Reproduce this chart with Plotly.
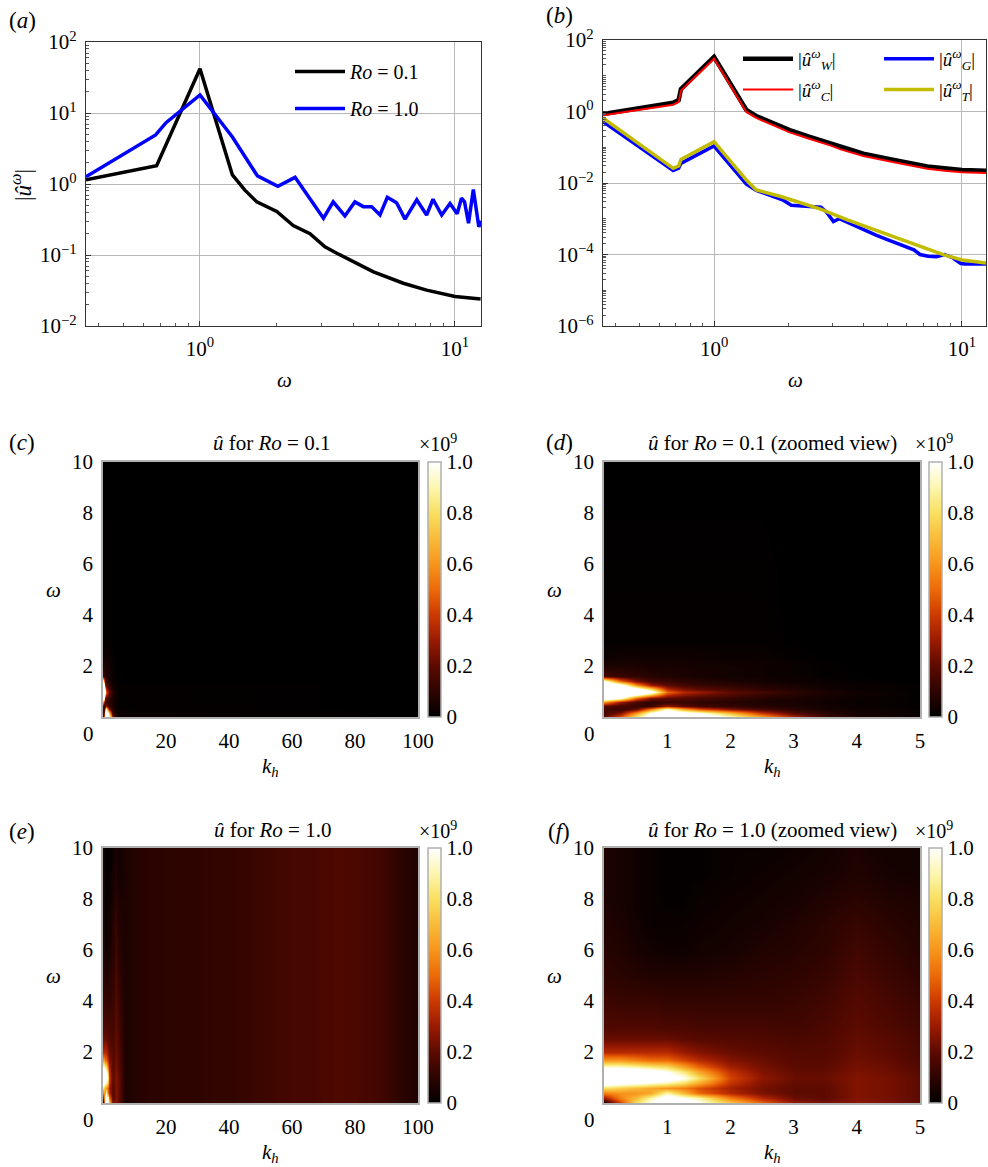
import plotly.graph_objects as go

FONT = "Liberation Serif, Times New Roman, serif"
W, H = 988, 1167


def px_x(p):
    return p / W


def px_y(p):
    return 1 - p / H


# ---------------- Panel (a) data ----------------
omega_a_ro01 = [0.357, 0.676, 1.0, 1.34, 1.5, 1.67, 2.0, 2.32, 2.7, 3.09, 3.44, 4.11, 4.79, 6.27, 7.74, 10.0, 12.6]
u_a_ro01 = [1.15, 1.81, 42, 1.34, 0.82, 0.56, 0.41, 0.26, 0.20, 0.13, 0.106, 0.076, 0.058, 0.040, 0.032, 0.026, 0.024]

omega_a_ro10 = [0.357, 0.67, 0.736, 1.0, 1.34, 1.68, 2.02, 2.36, 3.05, 3.33, 3.7, 4.05, 4.37, 4.71, 5.08, 5.43,
                5.9, 6.37, 7.08, 7.74, 8.2, 8.87, 9.56, 10.2, 10.6, 10.9, 11.3, 11.8, 12.4, 12.7]
u_a_ro10 = [1.26, 4.9, 7.3, 18, 4.6, 1.3, 0.93, 1.24, 0.33, 0.56, 0.355, 0.56, 0.48, 0.48, 0.366, 0.65,
            0.546, 0.32, 0.6, 0.366, 0.61, 0.366, 0.53, 0.38, 0.63, 0.56, 0.28, 0.84, 0.25, 0.3]

# ---------------- Panel (b) data ----------------
omega_b_WC = [0.357, 0.684, 0.72, 0.735, 1.0, 1.35, 1.48, 1.68, 2.02, 2.4, 2.94, 3.24, 4.0, 5.32, 6.17, 7.25, 8.5, 10.0, 12.5]
u_b_W = [0.85, 1.76, 2.1, 4.2, 34, 1.1, 0.75, 0.51, 0.30, 0.2, 0.129, 0.10, 0.066, 0.044, 0.0355, 0.029, 0.026, 0.023, 0.022]
u_b_C = [0.78, 1.55, 1.85, 3.8, 30, 0.97, 0.66, 0.45, 0.26, 0.175, 0.113, 0.087, 0.057, 0.038, 0.031, 0.025, 0.022, 0.020, 0.019]

omega_b_T = [0.357, 0.684, 0.72, 0.735, 1.0, 1.35, 1.48, 1.86, 2.69, 3.45, 6.02, 8.46, 10.0, 12.5]
u_b_T = [0.65, 0.0257, 0.03, 0.0457, 0.143, 0.0121, 0.0064, 0.0042, 0.00185, 0.00093, 0.00023, 0.0000977, 0.00007, 0.000058]

omega_b_G = [0.357, 0.684, 0.72, 0.735, 1.0, 1.35, 1.48, 1.6, 1.9, 2.05, 2.4, 2.7, 2.85, 3.03, 3.2, 3.5, 4.0, 4.5, 5.0,
             5.98, 6.4, 6.77, 7.3, 7.9, 8.5, 9.2, 9.9, 10.3, 12.5]
u_b_G = [0.52, 0.0224, 0.026, 0.0355, 0.108, 0.0093, 0.0062, 0.0050, 0.0033, 0.0024, 0.0022, 0.0021, 0.0015, 0.00083,
         0.0010, 0.00075, 0.00049, 0.00035, 0.00026, 0.000166, 0.000135, 0.0001, 0.00009, 0.000087, 0.0001, 0.00008,
         0.000056, 0.000054, 0.000054]

# ---------------- Heatmap data (units of 1e9) ----------------
# Ro = 0.1 zoomed view
kh_d = [0, 0.25, 0.5, 0.75, 1.0, 1.25, 1.5, 2.0, 2.5, 3.0, 3.5, 4.0, 5.0]
omega_d = [0, 0.15, 0.3, 0.45, 0.6, 0.75, 0.9, 1.0, 1.1, 1.25, 1.4, 1.6, 2.0, 2.4, 3.0, 10.0]
z_d = [
    [0.20, 0.45, 0.85, 1.10, 1.30, 1.30, 1.20, 0.95, 0.65, 0.35, 0.14, 0.06, 0.02],
    [0.15, 0.25, 0.60, 1.00, 1.20, 1.10, 1.00, 0.70, 0.38, 0.18, 0.09, 0.04, 0.02],
    [0.15, 0.12, 0.20, 0.55, 0.95, 0.65, 0.45, 0.26, 0.15, 0.09, 0.05, 0.03, 0.01],
    [0.18, 0.15, 0.12, 0.12, 0.30, 0.20, 0.15, 0.11, 0.08, 0.06, 0.04, 0.02, 0.01],
    [0.60, 0.30, 0.15, 0.10, 0.12, 0.12, 0.10, 0.08, 0.06, 0.05, 0.03, 0.02, 0.01],
    [1.20, 1.00, 0.50, 0.25, 0.20, 0.18, 0.15, 0.12, 0.08, 0.06, 0.04, 0.02, 0.01],
    [1.40, 1.30, 1.10, 0.80, 0.40, 0.30, 0.25, 0.18, 0.12, 0.08, 0.05, 0.03, 0.01],
    [1.50, 1.40, 1.30, 1.10, 0.50, 0.35, 0.30, 0.20, 0.15, 0.10, 0.06, 0.03, 0.01],
    [1.40, 1.30, 1.10, 0.80, 0.35, 0.25, 0.20, 0.15, 0.10, 0.07, 0.04, 0.02, 0.01],
    [1.30, 1.10, 0.60, 0.30, 0.20, 0.15, 0.12, 0.10, 0.07, 0.05, 0.03, 0.02, 0.01],
    [1.00, 0.50, 0.25, 0.15, 0.12, 0.10, 0.08, 0.06, 0.04, 0.03, 0.02, 0.01, 0.00],
    [0.15, 0.12, 0.10, 0.08, 0.07, 0.06, 0.05, 0.04, 0.03, 0.02, 0.01, 0.00, 0.00],
    [0.06, 0.06, 0.06, 0.05, 0.05, 0.05, 0.04, 0.04, 0.03, 0.02, 0.01, 0.00, 0.00],
    [0.02, 0.03, 0.03, 0.03, 0.03, 0.03, 0.03, 0.02, 0.02, 0.01, 0.00, 0.00, 0.00],
    [0.01, 0.01, 0.01, 0.01, 0.01, 0.01, 0.01, 0.01, 0.01, 0.00, 0.00, 0.00, 0.00],
    [0.00, 0.00, 0.00, 0.00, 0.00, 0.00, 0.00, 0.00, 0.00, 0.00, 0.00, 0.00, 0.00],
]

# Ro = 0.1 full view: same low-k_h data, nothing beyond
kh_c_far = [100]
level_c_far = [0.0]

# Ro = 1.0 zoomed view
kh_f = [0, 0.25, 0.5, 0.75, 1.0, 1.25, 1.5, 2.0, 2.5, 3.0, 3.5, 4.0, 4.5, 5.0]
omega_f = [0, 0.2, 0.4, 0.6, 0.8, 1.0, 1.2, 1.4, 1.7, 2.0, 2.5, 3.0, 4.0, 5.0, 6.0, 7.0, 8.0, 9.0, 10.0]
z_f = [
    [0.05, 0.40, 0.80, 1.00, 1.10, 1.10, 1.00, 0.75, 0.50, 0.30, 0.25, 0.28, 0.25, 0.20],
    [0.30, 0.55, 0.70, 0.90, 1.10, 1.00, 0.90, 0.55, 0.35, 0.22, 0.20, 0.26, 0.24, 0.20],
    [0.55, 0.60, 0.60, 0.65, 0.90, 0.70, 0.50, 0.35, 0.25, 0.20, 0.20, 0.26, 0.24, 0.20],
    [0.80, 0.75, 0.70, 0.65, 0.60, 0.55, 0.45, 0.32, 0.24, 0.20, 0.20, 0.26, 0.24, 0.20],
    [1.10, 1.05, 1.00, 0.95, 0.90, 0.80, 0.65, 0.38, 0.26, 0.21, 0.21, 0.26, 0.24, 0.20],
    [1.30, 1.30, 1.25, 1.20, 1.10, 1.00, 0.80, 0.42, 0.28, 0.22, 0.22, 0.26, 0.24, 0.20],
    [1.20, 1.20, 1.15, 1.10, 1.00, 0.85, 0.65, 0.38, 0.26, 0.21, 0.21, 0.25, 0.23, 0.19],
    [0.95, 0.95, 0.90, 0.85, 0.80, 0.65, 0.50, 0.32, 0.24, 0.20, 0.20, 0.24, 0.22, 0.18],
    [0.60, 0.60, 0.55, 0.50, 0.50, 0.42, 0.35, 0.26, 0.22, 0.19, 0.19, 0.23, 0.21, 0.17],
    [0.35, 0.35, 0.35, 0.35, 0.35, 0.30, 0.26, 0.22, 0.20, 0.18, 0.18, 0.22, 0.20, 0.16],
    [0.22, 0.22, 0.22, 0.22, 0.22, 0.20, 0.19, 0.18, 0.17, 0.16, 0.17, 0.21, 0.19, 0.15],
    [0.17, 0.17, 0.17, 0.17, 0.16, 0.16, 0.15, 0.15, 0.15, 0.14, 0.16, 0.20, 0.17, 0.14],
    [0.13, 0.12, 0.12, 0.12, 0.11, 0.11, 0.11, 0.11, 0.11, 0.12, 0.14, 0.18, 0.15, 0.12],
    [0.10, 0.09, 0.08, 0.07, 0.07, 0.07, 0.07, 0.08, 0.09, 0.10, 0.12, 0.16, 0.13, 0.10],
    [0.08, 0.07, 0.05, 0.04, 0.03, 0.03, 0.04, 0.05, 0.07, 0.08, 0.10, 0.14, 0.11, 0.08],
    [0.07, 0.06, 0.04, 0.02, 0.02, 0.02, 0.03, 0.04, 0.05, 0.07, 0.09, 0.12, 0.09, 0.07],
    [0.06, 0.05, 0.03, 0.02, 0.01, 0.01, 0.02, 0.03, 0.04, 0.05, 0.07, 0.09, 0.07, 0.06],
    [0.06, 0.05, 0.03, 0.02, 0.01, 0.01, 0.01, 0.02, 0.03, 0.04, 0.05, 0.07, 0.05, 0.04],
    [0.06, 0.05, 0.03, 0.02, 0.01, 0.01, 0.01, 0.02, 0.02, 0.03, 0.04, 0.06, 0.04, 0.04],
]

# Ro = 1.0 full view: low-k_h data plus broad-band level at larger k_h
kh_e_far = [7, 10, 15, 20, 25, 30, 35, 40, 45, 50, 55, 60, 65, 70, 75, 80, 85, 90, 95, 100]
level_e_far = [0.06, 0.08, 0.09, 0.095, 0.10, 0.10, 0.11, 0.11, 0.12, 0.13, 0.14, 0.15, 0.15, 0.16, 0.17,
               0.16, 0.15, 0.13, 0.09, 0.07]

# build full-view grids
kh_c = kh_d + kh_c_far
z_c = [row + level_c_far for row in z_d]
kh_e = kh_f + kh_e_far
z_e = [row + level_e_far for row in z_f]

cb_ticks = [0, 0.2, 0.4, 0.6, 0.8, 1.0]
cb_ticktext = ["0", "0.2", "0.4", "0.6", "0.8", "1.0"]

hot_scale = [[0.0, "#000000"], [0.1, "#2e0400"], [0.2, "#5c0a00"], [0.3, "#9a1a00"], [0.4, "#cc3a00"],
             [0.5, "#ec6a08"], [0.6, "#f7951c"], [0.7, "#f9bb3a"], [0.8, "#f9e060"], [0.9, "#fcf6b0"],
             [1.0, "#ffffff"]]

fig = go.Figure()

# (a)
fig.add_trace(go.Scatter(x=omega_a_ro01, y=u_a_ro01, mode="lines", line=dict(color="black", width=3.5),
                         name="<i>Ro</i> = 0.1", xaxis="x", yaxis="y", legend="legend", legendgroup="a1"))
fig.add_trace(go.Scatter(x=omega_a_ro10, y=u_a_ro10, mode="lines", line=dict(color="#0000ff", width=3.5),
                         name="<i>Ro</i> = 1.0", xaxis="x", yaxis="y", legend="legend", legendgroup="a2"))

# (b)
fig.add_trace(go.Scatter(x=omega_b_WC, y=u_b_W, mode="lines", line=dict(color="black", width=4.5),
                         name="|<i>û</i><sup><i>ω</i></sup><sub><i>W</i></sub>|", xaxis="x2", yaxis="y2",
                         legend="legend2", legendgroup="b1"))
fig.add_trace(go.Scatter(x=omega_b_WC, y=u_b_C, mode="lines", line=dict(color="#ff0000", width=2),
                         name="|<i>û</i><sup><i>ω</i></sup><sub><i>C</i></sub>|", xaxis="x2", yaxis="y2",
                         legend="legend2", legendgroup="b2"))
fig.add_trace(go.Scatter(x=omega_b_G, y=u_b_G, mode="lines", line=dict(color="#0000ff", width=3.5),
                         name="|<i>û</i><sup><i>ω</i></sup><sub><i>G</i></sub>|", xaxis="x2", yaxis="y2",
                         legend="legend3", legendgroup="b3"))
fig.add_trace(go.Scatter(x=omega_b_T, y=u_b_T, mode="lines", line=dict(color="#c2bc00", width=3.5),
                         name="|<i>û</i><sup><i>ω</i></sup><sub><i>T</i></sub>|", xaxis="x2", yaxis="y2",
                         legend="legend3", legendgroup="b4"))


def cbar(x_px, y_top, y_bot):
    return dict(x=px_x(x_px), xanchor="left", xref="paper", y=px_y((y_top + y_bot) / 2), yanchor="middle",
                len=(y_bot - y_top) / H, lenmode="fraction", thickness=13, thicknessmode="pixels",
                outlinecolor="#b0b0b0", outlinewidth=1.5, tickvals=cb_ticks, ticktext=cb_ticktext,
                ticks="", tickfont=dict(family=FONT, size=21, color="black"), ypad=0, xpad=0)


heat_common = dict(colorscale=hot_scale, zmin=0, zmax=1, zsmooth="best", hoverinfo="skip")
fig.add_trace(go.Heatmap(x=kh_c, y=omega_d, z=z_c, xaxis="x3", yaxis="y3", colorbar=cbar(428, 462, 717), **heat_common))
fig.add_trace(go.Heatmap(x=kh_d, y=omega_d, z=z_d, xaxis="x4", yaxis="y4", colorbar=cbar(929, 462, 717), **heat_common))
fig.add_trace(go.Heatmap(x=kh_e, y=omega_f, z=z_e, xaxis="x5", yaxis="y5", colorbar=cbar(428, 848, 1103), **heat_common))
fig.add_trace(go.Heatmap(x=kh_f, y=omega_f, z=z_f, xaxis="x6", yaxis="y6", colorbar=cbar(929, 848, 1103), **heat_common))

tfont = dict(family=FONT, size=21, color="black")


def log_axis(dom, rng, tv, tt, anchor):
    return dict(type="log", domain=dom, range=rng, anchor=anchor, tickmode="array", tickvals=tv, ticktext=tt,
                tickfont=tfont, showline=True, linecolor="#333333", linewidth=1.2, mirror=True,
                ticks="inside", ticklen=5, tickcolor="#333333", showgrid=True, gridcolor="#b8b8b8", gridwidth=1,
                zeroline=False, ticklabelstandoff=4,
                minor=dict(ticks="inside", ticklen=2.5, tickcolor="#555555", dtick="D1", showgrid=False))


layout = dict(
    width=W, height=H, margin=dict(l=0, r=0, t=0, b=0, autoexpand=False), paper_bgcolor="white",
    plot_bgcolor="white", font=dict(family=FONT, size=21, color="black"), showlegend=True,
)

# panel (a)
layout["xaxis"] = log_axis([px_x(86), px_x(481)], [-0.447, 1.102], [1, 10], ["10<sup>0</sup>", "10<sup>1</sup>"], "y")
layout["yaxis"] = log_axis([px_y(326), px_y(42)], [-2, 2], [0.01, 0.1, 1, 10, 100],
                           ["10<sup>−2</sup>", "10<sup>−1</sup>", "10<sup>0</sup>", "10<sup>1</sup>", "10<sup>2</sup>"], "x")
# panel (b)
layout["xaxis2"] = log_axis([px_x(603), px_x(986)], [-0.448, 1.097], [1, 10], ["10<sup>0</sup>", "10<sup>1</sup>"], "y2")
layout["yaxis2"] = log_axis([px_y(326), px_y(40)], [-6, 2], [1e-6, 1e-4, 1e-2, 1, 100],
                            ["10<sup>−6</sup>", "10<sup>−4</sup>", "10<sup>−2</sup>", "10<sup>0</sup>", "10<sup>2</sup>"], "x2")


def lin_axis(dom, rng, tv, anchor):
    return dict(domain=dom, range=rng, anchor=anchor, tickmode="array", tickvals=tv,
                ticktext=[str(v) for v in tv], tickfont=tfont, showline=True, linecolor="#b0b0b0",
                linewidth=1.5, mirror=True, ticks="outside", ticklen=4, tickcolor="rgba(0,0,0,0)",
                showgrid=False, zeroline=False)


kh_full_ticks = [20, 40, 60, 80, 100]
kh_zoom_ticks = [1, 2, 3, 4, 5]
om_ticks = [2, 4, 6, 8, 10]

layout["xaxis3"] = lin_axis([px_x(103), px_x(418)], [0, 100], kh_full_ticks, "y3")
layout["yaxis3"] = lin_axis([px_y(717), px_y(462)], [0, 10], om_ticks, "x3")
layout["xaxis4"] = lin_axis([px_x(604), px_x(920)], [0, 5], kh_zoom_ticks, "y4")
layout["yaxis4"] = lin_axis([px_y(717), px_y(462)], [0, 10], om_ticks, "x4")
layout["xaxis5"] = lin_axis([px_x(103), px_x(418)], [0, 100], kh_full_ticks, "y5")
layout["yaxis5"] = lin_axis([px_y(1103), px_y(848)], [0, 10], om_ticks, "x5")
layout["xaxis6"] = lin_axis([px_x(604), px_x(920)], [0, 5], kh_zoom_ticks, "y6")
layout["yaxis6"] = lin_axis([px_y(1103), px_y(848)], [0, 10], om_ticks, "x6")

leg_common = dict(xanchor="left", yanchor="top", bgcolor="rgba(0,0,0,0)", borderwidth=0,
                  itemwidth=50, xref="paper", yref="paper")
layout["legend"] = dict(x=px_x(290), y=px_y(52), tracegroupgap=8,
                        font=dict(family=FONT, size=20, color="black"), **leg_common)
layout["legend2"] = dict(x=px_x(738), y=px_y(40), tracegroupgap=3,
                         font=dict(family=FONT, size=19, color="black"), **leg_common)
layout["legend3"] = dict(x=px_x(879), y=px_y(40), tracegroupgap=3,
                         font=dict(family=FONT, size=19, color="black"), **leg_common)

fig.update_layout(**layout)


def ann(text, x, y, size=21, angle=0, xanchor="center"):
    fig.add_annotation(text=text, x=px_x(x), y=px_y(y), xref="paper", yref="paper", showarrow=False,
                       font=dict(family=FONT, size=size, color="black"), textangle=angle,
                       xanchor=xanchor, yanchor="middle")


# panel labels
ann("(<i>a</i>)", 22, 20, size=23)
ann("(<i>b</i>)", 559, 16, size=23)
ann("(<i>c</i>)", 22, 443, size=23)
ann("(<i>d</i>)", 559, 443, size=23)
ann("(<i>e</i>)", 22, 831, size=23)
ann("(<i>f</i>)", 559, 831, size=23)

# axis titles (a),(b)
ann("<i>ω</i>", 284, 380)
ann("<i>ω</i>", 795, 380)
ann("|<i>û</i><sup><i>ω</i></sup>|", 22, 185, size=23, angle=-90)

# heatmap axis titles
for xl, xr, ytop, ybot in [(103, 418, 462, 717), (604, 920, 462, 717), (103, 418, 848, 1103), (604, 920, 848, 1103)]:
    ann("<i>k<sub>h</sub></i>", (xl + xr) / 2 + 10, ybot + 50)
    ann("<i>ω</i>", xl - 50, (ytop + ybot) / 2)
    ann("0", xl - 15, ybot + 17)

# heatmap titles
ann("<i>û</i> for <i>Ro</i> = 0.1", 271, 443)
ann("<i>û</i> for <i>Ro</i> = 0.1 (zoomed view)", 772, 443)
ann("<i>û</i> for <i>Ro</i> = 1.0", 272, 830)
ann("<i>û</i> for <i>Ro</i> = 1.0 (zoomed view)", 772, 830)
for x, y in [(438, 443), (934, 443), (438, 830), (934, 830)]:
    ann("×10<sup>9</sup>", x, y, size=20)

fig.write_html(
    "out.html",
    config={"displayModeBar": False},
    post_script="document.body.style.margin='0';document.body.style.padding='0';"
                "document.documentElement.style.overflow='hidden';",
)
